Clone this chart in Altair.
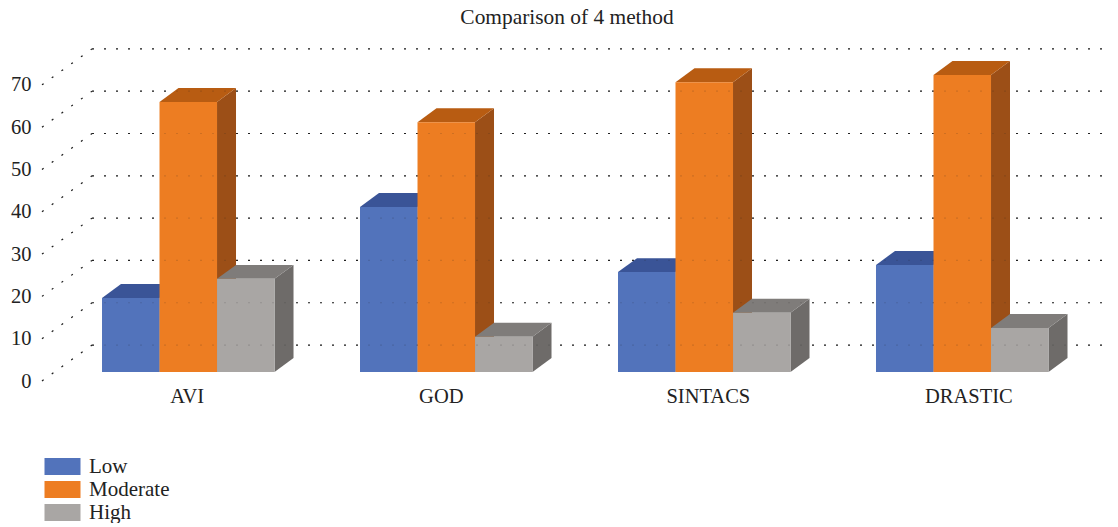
import altair as alt
import pandas as pd

methods = ["AVI", "GOD", "SINTACS", "DRASTIC"]
series = ["Low", "Moderate", "High"]
low = [17.5, 39.0, 23.6, 25.3]
moderate = [63.8, 59.0, 68.5, 70.2]
high = [22.0, 8.3, 14.0, 10.4]
values = {"Low": low, "Moderate": moderate, "High": high}
label_pos = [0.33, 0.315, 0.35, 0.36]
ticks = [0, 10, 20, 30, 40, 50, 60, 70]

front_colors = ["#5273bb", "#ed7d22", "#a9a6a4"]
side_colors = {"Low": "#3a5497", "Moderate": "#9c4f17", "High": "#6e6b69"}
top_colors = {"Low": "#3a5497", "Moderate": "#b85c12", "High": "#7f7c7a"}

BAR_W = 0.2229
DX, DY = 0.0736, 3.3
LIFT = 2.14
WALL_DX, WALL_DY = 0.1938, 8.5
X_MIN, X_MAX = -0.2326, 3.9070
Y_MAX = 80.6
SERIF = "Liberation Serif"
TEXT = "#222222"

xs = alt.Scale(domain=[X_MIN, X_MAX], nice=False, zero=False)
ys = alt.Scale(domain=[0, Y_MAX], nice=False, zero=False)
y_axis = alt.Axis(
    values=ticks, title=None, domain=False, ticks=False, grid=False,
    labelFont=SERIF, labelFontSize=20.5, labelColor=TEXT, labelPadding=11,
    labelOverlap=False, labelFlush=False, labelBound=False)
X = alt.X("x:Q", scale=xs, axis=None)
Y = alt.Y("y:Q", scale=ys, axis=y_axis)

color_scale = alt.Scale(domain=series, range=front_colors)
legend = alt.Legend(
    orient="none", legendX=10, legendY=416, title=None,
    symbolType="M-4,-1.9H4V1.9H-4Z", symbolSize=81, symbolStrokeWidth=0,
    symbolOpacity=1, labelFont=SERIF, labelFontSize=21, labelColor=TEXT,
    labelOffset=16, rowPadding=1,
)

grid_rows = []
for t in ticks:
    grid_rows.append({"k": f"b{t}", "x": X_MIN + WALL_DX, "y": t + WALL_DY})
    grid_rows.append({"k": f"b{t}", "x": X_MAX, "y": t + WALL_DY})
    grid_rows.append({"k": f"d{t}", "x": X_MIN, "y": t})
    grid_rows.append({"k": f"d{t}", "x": X_MIN + WALL_DX, "y": t + WALL_DY})
grid_df = pd.DataFrame(grid_rows)


def grid(opacity):
    return alt.Chart(grid_df).mark_line(
        color=TEXT, strokeWidth=1.2, strokeDash=[2, 10], opacity=opacity
    ).encode(x=X, y=Y, detail="k:N")


layers = [grid(1)]
for si, s in enumerate(series):
    side, top, front = [], [], []
    for g, v in enumerate(values[s]):
        x0 = g + si * BAR_W
        x1 = x0 + BAR_W
        vv = v + LIFT
        front.append({"series": s, "x": x0, "x2": x1, "y": LIFT, "y2": vv})
        side.append({"g": g, "x": x1, "y": LIFT, "y2": vv})
        side.append({"g": g, "x": x1 + DX, "y": LIFT + DY, "y2": vv + DY})
        top.append({"g": g, "x": x0, "y": vv, "y2": vv})
        top.append({"g": g, "x": x0 + DX, "y": vv, "y2": vv + DY})
        top.append({"g": g, "x": x1, "y": vv, "y2": vv + DY})
        top.append({"g": g, "x": x1 + DX, "y": vv + DY, "y2": vv + DY})
    layers.append(alt.Chart(pd.DataFrame(side)).mark_area(color=side_colors[s], opacity=1).encode(
        x=X, y=Y, y2="y2:Q", detail="g:N"))
    layers.append(alt.Chart(pd.DataFrame(top)).mark_area(color=top_colors[s], opacity=1).encode(
        x=X, y=Y, y2="y2:Q", detail="g:N"))
    layers.append(alt.Chart(pd.DataFrame(front)).mark_rect(opacity=1).encode(
        x=X, x2="x2:Q", y=Y, y2="y2:Q",
        color=alt.Color("series:N", scale=color_scale, legend=legend)))

layers.append(grid(0.15))

label_df = pd.DataFrame({"m": methods, "x": [i + p for i, p in enumerate(label_pos)], "y": [0] * 4})
layers.append(alt.Chart(label_df).mark_text(
    font=SERIF, fontSize=20.5, color=TEXT, baseline="middle", align="center", dy=16
).encode(x=X, y=Y, text="m:N"))

chart = alt.layer(*layers).properties(
    width=1068, height=341,
    padding={"left": 34, "top": 32, "right": 0, "bottom": 142},
    autosize=alt.AutoSizeParams(type="none"),
    title=alt.TitleParams(
        "Comparison of 4 method", font=SERIF, fontSize=21.4, fontWeight="normal",
        color=TEXT, anchor="middle", offset=12, dx=-9),
).configure_view(stroke=None)

chart.save("out.html", embed_options={"renderer": "svg", "actions": False})
